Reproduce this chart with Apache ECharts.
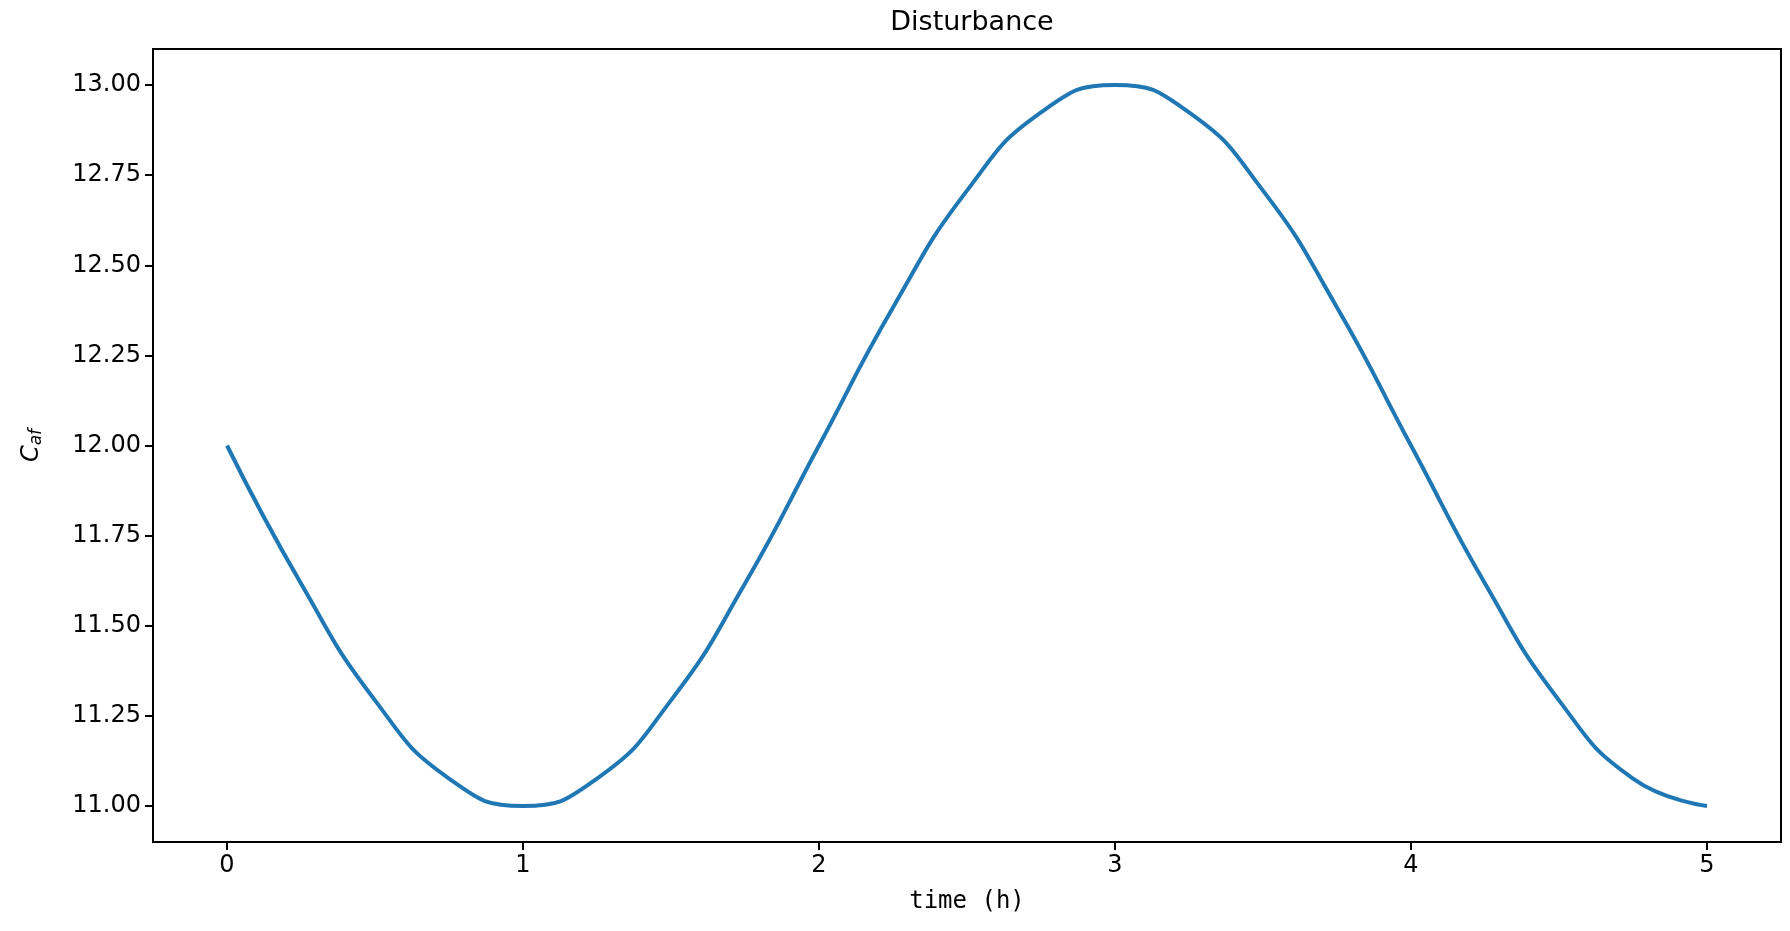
<!DOCTYPE html>
<html><head><meta charset="utf-8">
<script src="https://cdn.jsdelivr.net/npm/echarts@6/dist/echarts.min.js"></script>
<style>html,body{margin:0;padding:0;background:#fff}#c{width:1790px;height:931px}</style>
</head><body><div id="c"></div>
<script>
var times = [0, 0.25, 0.5, 0.75, 1, 1.25, 1.5, 1.75, 2, 2.25, 2.5, 2.75, 3, 3.25, 3.5, 3.75, 4, 4.25, 4.5, 4.75, 5];
var caf = [12, 11.617, 11.293, 11.076, 11, 11.076, 11.293, 11.617, 12, 12.383, 12.707, 12.924, 13, 12.924, 12.707, 12.383, 12, 11.617, 11.293, 11.076, 11];
var xTicks = [0, 1, 2, 3, 4, 5];
var yTicks = [11, 11.25, 11.5, 11.75, 12, 12.25, 12.5, 12.75, 13];

var font = 'DejaVu Sans';
var chart = echarts.init(document.getElementById('c'));
chart.setOption({
  animation: false,
  title: {text: 'Disturbance', left: 967, top: 4, textAlign: 'center',
    textStyle: {fontFamily: font, fontSize: 27, fontWeight: 'normal', color: '#000'}},
  grid: {left: 153, top: 49, width: 1628, height: 793},
  xAxis: {
    type: 'value', min: -0.25, max: 5.25,
    name: 'time (h)', nameLocation: 'middle', nameGap: 48,
    nameTextStyle: {fontFamily: 'DejaVu Sans Mono', fontSize: 24, color: '#000'},
    axisLine: {show: true, onZero: false, lineStyle: {color: '#000', width: 2}},
    axisTick: {show: true, length: 8, lineStyle: {color: '#000', width: 2}, customValues: xTicks},
    axisLabel: {fontFamily: font, fontSize: 24, color: '#000', margin: 12, customValues: xTicks},
    splitLine: {show: false}
  },
  yAxis: {
    type: 'value', min: 10.9, max: 13.1,
    name: '{c|C}{s|af}', nameLocation: 'middle', nameGap: 108, nameRotate: 90,
    nameTextStyle: {rich: {
      c: {fontFamily: font, fontStyle: 'italic', fontSize: 24, color: '#000'},
      s: {fontFamily: font, fontStyle: 'italic', fontSize: 17, color: '#000', verticalAlign: 'bottom', padding: [10, 0, 0, 0]}
    }},
    axisLine: {show: true, onZero: false, lineStyle: {color: '#000', width: 2}},
    axisTick: {show: true, length: 8, lineStyle: {color: '#000', width: 2}, customValues: yTicks},
    axisLabel: {fontFamily: font, fontSize: 24, color: '#000', margin: 12, customValues: yTicks,
      formatter: function (v) { return v.toFixed(2); }},
    splitLine: {show: false}
  },
  graphic: [{type: 'rect', shape: {x: 153, y: 49, width: 1628, height: 793},
    style: {fill: 'none', stroke: '#000', lineWidth: 2}, z: 10}],
  series: [{
    type: 'line', smooth: true, showSymbol: false,
    data: times.map(function (t, i) { return [t, caf[i]]; }),
    lineStyle: {color: '#1f77b4', width: 4}
  }]
});
</script></body></html>
